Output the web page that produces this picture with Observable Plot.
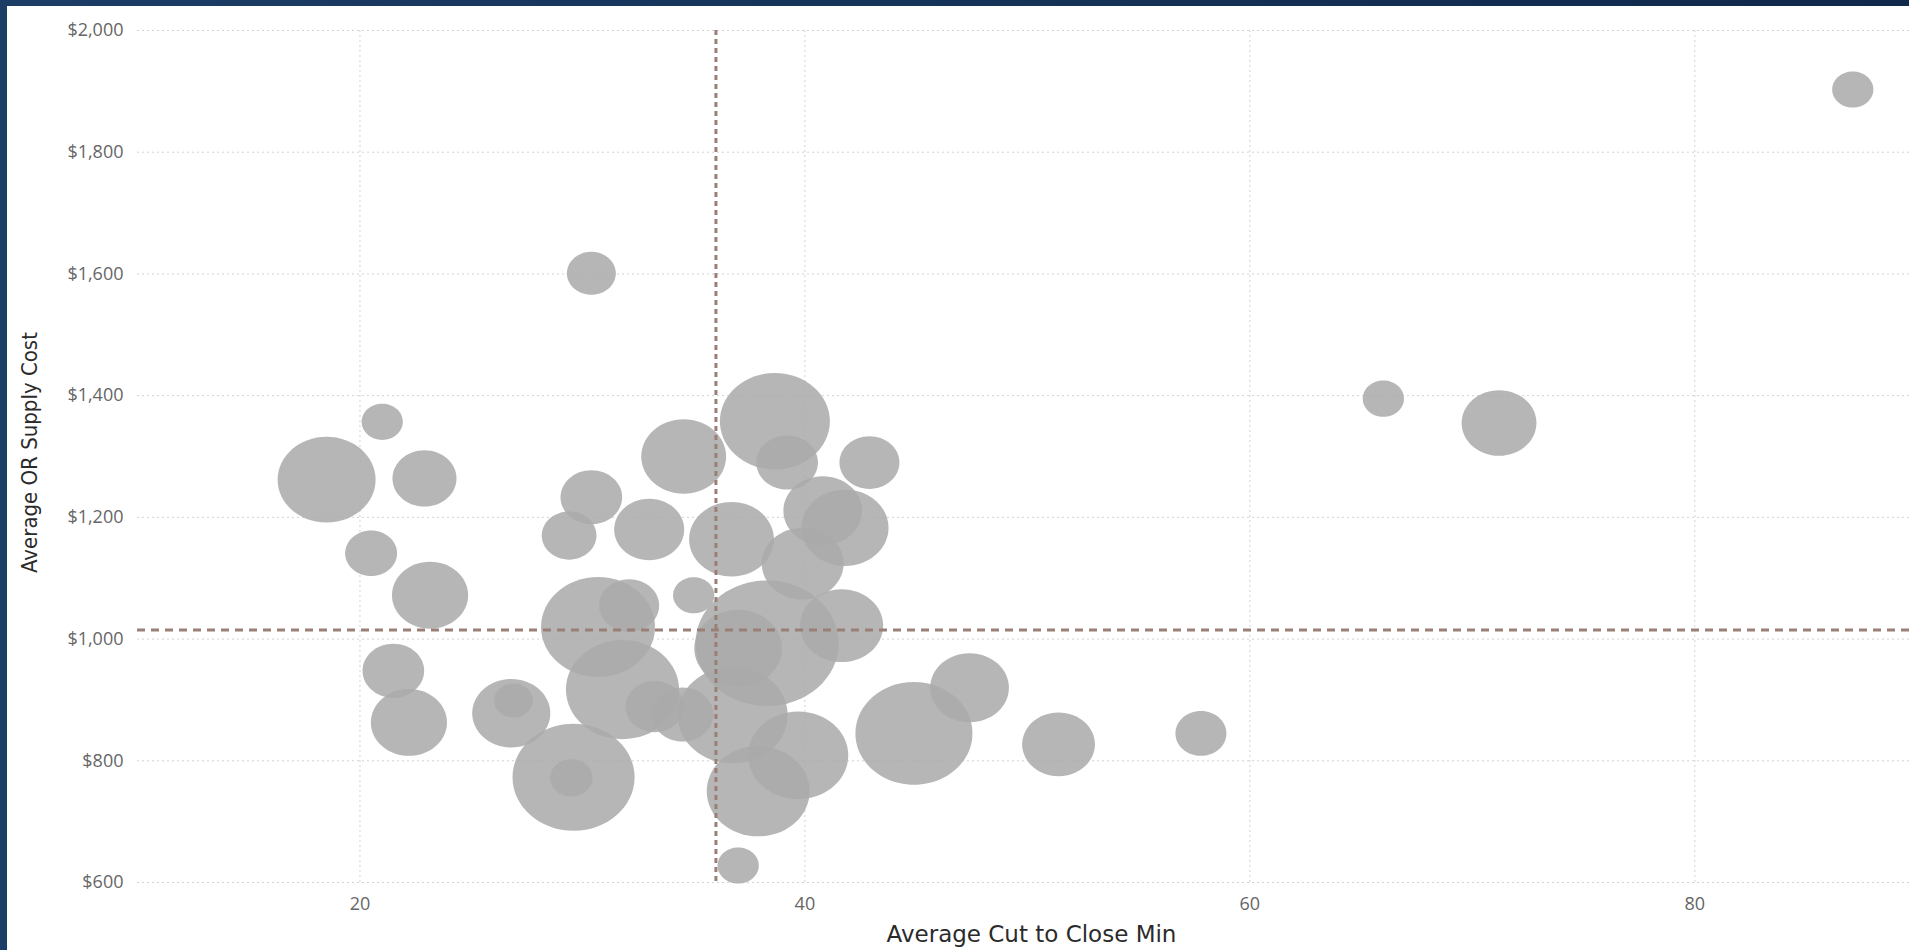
<!DOCTYPE html>
<html>
<head>
<meta charset="utf-8">
<script src="https://cdn.jsdelivr.net/npm/d3@7"></script>
<script src="https://cdn.jsdelivr.net/npm/@observablehq/plot@0.6"></script>
<style>
html, body { margin: 0; padding: 0; overflow: hidden; }
body { width: 1909px; height: 950px; background: linear-gradient(to right, #1b3d66, #10284a); position: relative; }
#chart { position: absolute; left: 7px; top: 6px; width: 1902px; height: 944px; background: #fff; }
</style>
</head>
<body>
<div id="chart"></div>
<script>
// Average cut-to-close minutes per surgeon (x)
const cutToClose = [87.1, 30.4, 66.0, 71.2, 21.0, 18.5, 22.9, 20.5, 23.15, 30.4, 29.4, 33.0, 34.55, 38.65, 39.2, 42.9, 36.7, 40.8, 41.8, 39.9, 35.0, 32.1, 30.7, 41.65, 38.3, 37.0, 21.5, 22.2, 26.8, 26.9, 31.8, 33.25, 34.5, 36.75, 29.6, 29.5, 37.0, 39.7, 37.9, 44.9, 47.4, 51.4, 57.8];
// Average OR supply cost (y)
const supplyCost = [1903, 1601, 1395, 1355, 1357, 1262, 1264, 1141, 1072, 1233, 1170, 1180, 1300, 1358, 1290, 1290, 1164, 1211, 1183, 1124, 1072, 1055, 1020, 1022, 993, 985, 948, 863, 878, 899, 917, 889, 876, 875, 773, 772, 628, 809, 750, 845, 920, 827, 845];
// Case volume (bubble size)
const caseVolume = [17, 24, 17, 56, 17, 96, 41, 27, 58, 38, 30, 49, 72, 121, 38, 36, 72, 62, 76, 67, 17, 36, 130, 69, 205, 77, 38, 58, 61, 15, 128, 34, 38, 121, 149, 18, 17, 100, 106, 137, 62, 53, 26];

const xTicks = [20, 40, 60, 80];
const yTicks = [600, 800, 1000, 1200, 1400, 1600, 1800, 2000];
const avgCutToClose = [36.0];
const avgSupplyCost = [1015];
const xLabel = "Average Cut to Close Min";
const yLabel = "Average OR Supply Cost";

const data = cutToClose.map((x, i) => ({x, y: supplyCost[i], v: caseVolume[i]}));

// Slightly stretched bubbles (as in the reference)
const ellipse = {
  draw(ctx, size) {
    const r = Math.sqrt(size / Math.PI);
    const rx = r, ry = r / 1.14, k = 0.5523;
    ctx.moveTo(rx, 0);
    ctx.bezierCurveTo(rx, k * ry, k * rx, ry, 0, ry);
    ctx.bezierCurveTo(-k * rx, ry, -rx, k * ry, -rx, 0);
    ctx.bezierCurveTo(-rx, -k * ry, -k * rx, -ry, 0, -ry);
    ctx.bezierCurveTo(k * rx, -ry, rx, -k * ry, rx, 0);
    ctx.closePath();
  }
};

const chart = Plot.plot({
  width: 1902,
  height: 944,
  marginLeft: 130,
  marginRight: 0,
  marginTop: 24,
  marginBottom: 68,
  style: {background: "white", fontFamily: "'Open Sans', sans-serif", fontSize: "18px", color: "#666", overflow: "visible"},
  x: {domain: [10, 89.65], ticks: xTicks, tickSize: 0, tickPadding: 15, label: null},
  y: {domain: [600, 2000], ticks: yTicks, tickSize: 0, tickPadding: 14, tickFormat: d3.format("$,"), label: null},
  r: {type: "sqrt", domain: [0, 200], range: [0, 70.71]},
  marks: [
    Plot.ruleX(xTicks, {stroke: "#d2d2d2", strokeDasharray: "2,3", strokeWidth: 1}),
    Plot.ruleY(yTicks, {stroke: "#d2d2d2", strokeDasharray: "2,3", strokeWidth: 1}),
    Plot.dot(data, {x: "x", y: "y", r: "v", symbol: ellipse, fill: "#aaaaaa", fillOpacity: 0.86, stroke: "none"}),
    Plot.ruleY(avgSupplyCost, {stroke: "#9a7f77", strokeWidth: 3, strokeDasharray: "8,6"}),
    Plot.ruleX(avgCutToClose, {stroke: "#9a7f77", strokeWidth: 3, strokeDasharray: "5,4"}),
    Plot.text([xLabel], {frameAnchor: "bottom", lineAnchor: "middle", dy: 52, dx: 8, fontFamily: "'DejaVu Sans', sans-serif", fontSize: 23, fill: "#2b2b2b"}),
    Plot.text([yLabel], {frameAnchor: "left", textAnchor: "middle", lineAnchor: "middle", rotate: -90, dx: -108, dy: -4, fontFamily: "'DejaVu Sans Condensed', 'DejaVu Sans', sans-serif", fontSize: 22, fill: "#2b2b2b"})
  ]
});
document.getElementById("chart").appendChild(chart);
</script>
</body>
</html>
